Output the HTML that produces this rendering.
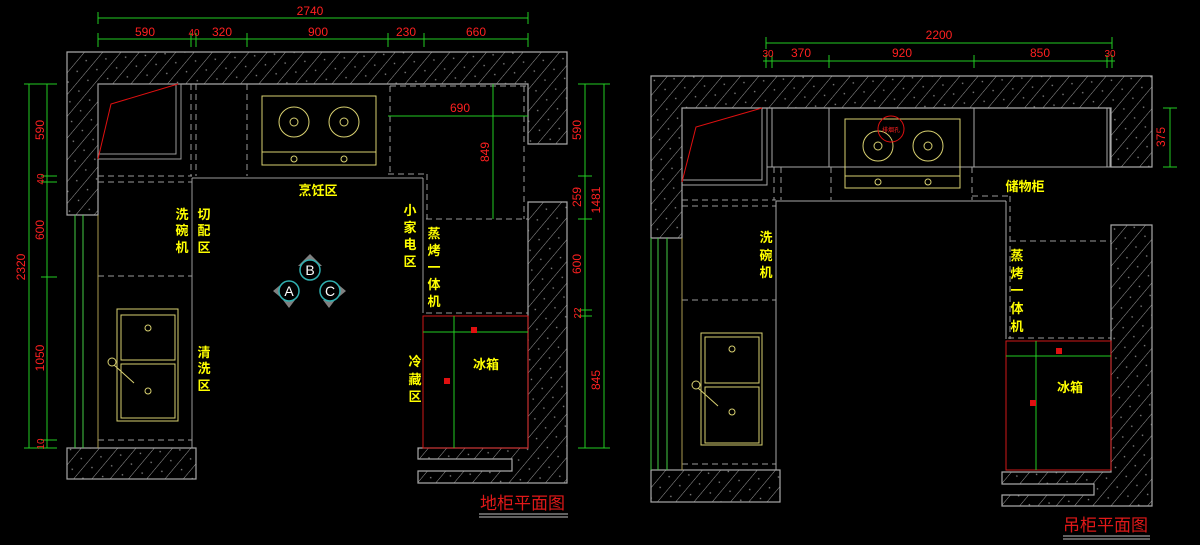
<!DOCTYPE html>
<html><head><meta charset="utf-8"><style>
html,body{margin:0;padding:0;background:#000;width:1200px;height:545px;overflow:hidden}
svg text{font-family:"Liberation Sans","Noto Sans CJK SC",sans-serif}
.y{fill:#ffff00;font-size:13px;font-weight:bold}
.r{fill:#ff2020;font-size:12px}
</style></head><body>
<svg width="1200" height="545" viewBox="0 0 1200 545" xmlns="http://www.w3.org/2000/svg">
<defs>
<pattern id="h" width="14" height="14" patternUnits="userSpaceOnUse" patternTransform="rotate(40)">
<rect width="14" height="14" fill="#000"/>
<line x1="0" y1="0" x2="0" y2="14" stroke="#9a9a9a" stroke-width="1"/>
<circle cx="7" cy="5" r="0.8" fill="#888"/>
</pattern>
</defs>
<g stroke="#a8a8a8" stroke-width="1.2" fill="url(#h)">
<path d="M67,52 H567 V144 H528 V84 H98 V215 H67 Z"/>
<path d="M528,202 H567 V483 H418 V471 H512 V459 H418 V448 H528 Z"/>
<rect x="67" y="448" width="129" height="31"/>
<path d="M651,76 H1152 V167 H1111 V108 H682 V238 H651 Z"/>
<path d="M1111,225 H1152 V506 H1002 V495 H1094 V484 H1002 V472 H1111 Z"/>
<rect x="651" y="470" width="129" height="32"/>
</g>
<g fill="none" stroke-width="1">
<!-- LEFT plan interior -->
<g stroke="#9a9a9a">
<rect x="98" y="84" width="83" height="75"/><rect x="98" y="84" width="78" height="70"/>
<line x1="192" y1="178" x2="423" y2="178"/><line x1="192" y1="178" x2="192" y2="448"/><line x1="423" y1="178" x2="423" y2="313"/>
</g>
<g stroke="#9a9a9a" stroke-dasharray="6,4">
<line x1="191" y1="84" x2="191" y2="176"/><line x1="196" y1="84" x2="196" y2="176"/><line x1="247" y1="84" x2="247" y2="176"/>
<line x1="98" y1="176" x2="192" y2="176"/><line x1="98" y1="182" x2="192" y2="182"/>
<line x1="390" y1="86" x2="528" y2="86"/><line x1="390" y1="86" x2="390" y2="174"/><line x1="388" y1="174" x2="427" y2="174"/><line x1="427" y1="174" x2="427" y2="219"/>
<line x1="524" y1="86" x2="524" y2="219"/><line x1="426" y1="219" x2="528" y2="219"/><line x1="426" y1="313" x2="528" y2="313"/>
<line x1="98" y1="276" x2="192" y2="276"/><line x1="98" y1="440" x2="192" y2="440"/>
</g>
<g stroke="#4c4"><line x1="75" y1="215" x2="75" y2="448"/><line x1="83" y1="215" x2="83" y2="448"/></g>
<line x1="98" y1="215" x2="98" y2="448" stroke="#aa9a50"/>
<path d="M98,159 L111,104 L178,84" stroke="#e01010"/>
<g stroke="#d8d070">
<rect x="262" y="96" width="114" height="69"/><line x1="262" y1="152" x2="376" y2="152"/>
<circle cx="294" cy="122" r="15"/><circle cx="294" cy="122" r="4"/>
<circle cx="344" cy="122" r="15"/><circle cx="344" cy="122" r="4"/>
<circle cx="294" cy="159" r="3"/><circle cx="344" cy="159" r="3"/>
<rect x="117" y="309" width="61" height="112"/><rect x="121" y="315" width="54" height="45"/><rect x="121" y="364" width="54" height="54"/>
<circle cx="148" cy="328" r="3"/><circle cx="148" cy="391" r="3"/><circle cx="112" cy="362" r="4"/><line x1="114" y1="365" x2="134" y2="383"/>
</g>
<rect x="423" y="316" width="105" height="132" stroke="#d01818"/>
<g stroke="#2c2">
<line x1="423" y1="332" x2="528" y2="332"/><line x1="454" y1="316" x2="454" y2="448"/>
<line x1="388" y1="116" x2="528" y2="116"/><line x1="493" y1="84" x2="493" y2="219"/>
<line x1="98" y1="18" x2="528" y2="18"/><line x1="98" y1="12" x2="98" y2="24"/><line x1="528" y1="12" x2="528" y2="24"/>
<line x1="98" y1="39" x2="528" y2="39"/>
<path d="M98,33V47M191,33V47M196,33V47M247,33V47M388,33V47M424,33V47M528,33V47"/>
<line x1="29" y1="84" x2="29" y2="448"/><line x1="47" y1="84" x2="47" y2="448"/>
<path d="M24,84H57M41,176H57M41,182H57M41,277H57M41,440H57M24,448H57"/>
<line x1="585" y1="84" x2="585" y2="448"/><line x1="604" y1="84" x2="604" y2="448"/>
<path d="M578,84H610M578,176H592M578,219H592M578,310H592M578,316H592M578,448H610"/>
</g>
<g fill="#808080" stroke="none">
<path d="M310,254 L322,266 L298,266Z M273,291 L285,281 L285,301Z M346,291 L334,281 L334,301Z M289,308 L283,300 L295,300Z M329,308 L323,300 L335,300Z"/>
</g>
<g stroke="#30b0b0" stroke-width="1.5" fill="#000">
<circle cx="310" cy="270" r="10"/><circle cx="289" cy="291" r="10"/><circle cx="330" cy="291" r="10"/>
</g>
<!-- RIGHT plan interior -->
<g stroke="#a8a8a8">
<rect x="682" y="108" width="85" height="77"/><rect x="682" y="108" width="80" height="72"/>
<rect x="767" y="108" width="343" height="59"/>
<line x1="772" y1="108" x2="772" y2="167"/><line x1="829" y1="108" x2="829" y2="167"/><line x1="974" y1="108" x2="974" y2="167"/><line x1="1107" y1="108" x2="1107" y2="167"/>
<line x1="776" y1="201" x2="1006" y2="201"/><line x1="776" y1="201" x2="776" y2="470"/><line x1="1006" y1="201" x2="1006" y2="339"/>
</g>
<g stroke="#9a9a9a" stroke-dasharray="6,4">
<line x1="774" y1="167" x2="774" y2="200"/><line x1="781" y1="167" x2="781" y2="200"/><line x1="831" y1="167" x2="831" y2="200"/><line x1="972" y1="167" x2="972" y2="200"/>
<line x1="682" y1="200" x2="776" y2="200"/><line x1="682" y1="206" x2="776" y2="206"/>
<line x1="972" y1="196" x2="1010" y2="196"/><line x1="1010" y1="196" x2="1010" y2="339"/>
<line x1="1010" y1="241" x2="1111" y2="241"/><line x1="1008" y1="338" x2="1111" y2="338"/>
<line x1="682" y1="300" x2="776" y2="300"/><line x1="682" y1="464" x2="776" y2="464"/>
</g>
<g stroke="#4c4"><line x1="651" y1="238" x2="651" y2="470"/><line x1="658" y1="238" x2="658" y2="470"/><line x1="667" y1="238" x2="667" y2="470"/></g>
<line x1="682" y1="238" x2="682" y2="470" stroke="#aa9a50"/>
<path d="M682,182 L696,127 L762,108" stroke="#e01010"/>
<g stroke="#d8d070">
<rect x="845" y="119" width="115" height="69"/><line x1="845" y1="176" x2="960" y2="176"/>
<circle cx="878" cy="146" r="15"/><circle cx="878" cy="146" r="4"/>
<circle cx="928" cy="146" r="15"/><circle cx="928" cy="146" r="4"/>
<circle cx="878" cy="182" r="3"/><circle cx="928" cy="182" r="3"/>
<rect x="701" y="333" width="61" height="112"/><rect x="705" y="337" width="54" height="46"/><rect x="705" y="387" width="54" height="56"/>
<circle cx="732" cy="349" r="3"/><circle cx="732" cy="412" r="3"/><circle cx="696" cy="385" r="4"/><line x1="698" y1="388" x2="718" y2="406"/>
</g>
<circle cx="891" cy="129" r="13" stroke="#e01010"/>
<rect x="1006" y="341" width="105" height="129" stroke="#d01818"/>
<g stroke="#2c2">
<line x1="1006" y1="356" x2="1111" y2="356"/><line x1="1036" y1="341" x2="1036" y2="470"/>
<line x1="766" y1="43" x2="1112" y2="43"/><path d="M766,37V49M1112,37V49"/>
<line x1="763" y1="61" x2="1115" y2="61"/>
<path d="M766,55V68M772,55V68M829,55V68M974,55V68M1107,55V68M1112,55V68"/>
<line x1="1170" y1="108" x2="1170" y2="167"/><path d="M1163,108H1177M1163,167H1177"/>
</g>
<g stroke="#c0c0c0"><line x1="479" y1="514" x2="568" y2="514"/><line x1="479" y1="517" x2="568" y2="517"/>
<line x1="1063" y1="536" x2="1150" y2="536"/><line x1="1063" y1="539" x2="1150" y2="539"/></g>
</g>
<g fill="#e01010"><rect x="471" y="327" width="6" height="6"/><rect x="444" y="378" width="6" height="6"/>
<rect x="1056" y="348" width="6" height="6"/><rect x="1030" y="400" width="6" height="6"/></g>
<g class="r" text-anchor="middle">
<text x="310" y="15">2740</text>
<text x="145" y="36">590</text><text x="194" y="36" font-size="10">40</text><text x="222" y="36">320</text><text x="318" y="36">900</text><text x="406" y="36">230</text><text x="476" y="36">660</text>
<text x="460" y="112">690</text>
<text transform="translate(44,130) rotate(-90)">590</text>
<text transform="translate(44,179) rotate(-90)" font-size="10">40</text>
<text transform="translate(44,230) rotate(-90)">600</text>
<text transform="translate(44,358) rotate(-90)">1050</text>
<text transform="translate(44,444) rotate(-90)" font-size="10">10</text>
<text transform="translate(25,267) rotate(-90)">2320</text>
<text transform="translate(489,152) rotate(-90)">849</text>
<text transform="translate(581,130) rotate(-90)">590</text>
<text transform="translate(581,197) rotate(-90)">259</text>
<text transform="translate(581,264) rotate(-90)">600</text>
<text transform="translate(581,313) rotate(-90)" font-size="10">22</text>
<text transform="translate(600,380) rotate(-90)">845</text>
<text transform="translate(600,200) rotate(-90)">1481</text>
<text x="939" y="39">2200</text>
<text x="768" y="57" font-size="10">30</text><text x="801" y="57">370</text><text x="902" y="57">920</text><text x="1040" y="57">850</text><text x="1110" y="57" font-size="10">30</text>
<text transform="translate(1165,137) rotate(-90)">375</text>
<text x="891" y="132" font-size="6">排烟孔</text>
</g>
<g fill="#fff" font-family="Liberation Serif,serif" font-size="14" text-anchor="middle">
<text x="310" y="275">B</text><text x="289" y="296">A</text><text x="330" y="296">C</text>
</g>
<g class="y" text-anchor="middle">
<text x="318" y="195">烹饪区</text>
<text x="182" y="219">洗</text><text x="182" y="235">碗</text><text x="182" y="252">机</text>
<text x="204" y="219">切</text><text x="204" y="235">配</text><text x="204" y="252">区</text>
<text x="410" y="215">小</text><text x="410" y="232">家</text><text x="410" y="249">电</text><text x="410" y="266">区</text>
<text x="434" y="238">蒸</text><text x="434" y="255">烤</text><text x="434" y="272">一</text><text x="434" y="289">体</text><text x="434" y="306">机</text>
<text x="204" y="357">清</text><text x="204" y="373">洗</text><text x="204" y="390">区</text>
<text x="415" y="366">冷</text><text x="415" y="384">藏</text><text x="415" y="401">区</text>
<text x="486" y="369">冰箱</text>
<text x="766" y="242">洗</text><text x="766" y="260">碗</text><text x="766" y="277">机</text>
<text x="1025" y="191">储物柜</text>
<text x="1017" y="260">蒸</text><text x="1017" y="278">烤</text><text x="1017" y="295">一</text><text x="1017" y="313">体</text><text x="1017" y="331">机</text>
<text x="1070" y="392">冰箱</text>
</g>
<g fill="#e01818" font-size="17">
<text x="480" y="509">地柜平面图</text>
<text x="1063" y="531">吊柜平面图</text>
</g>
</svg>
</body></html>
